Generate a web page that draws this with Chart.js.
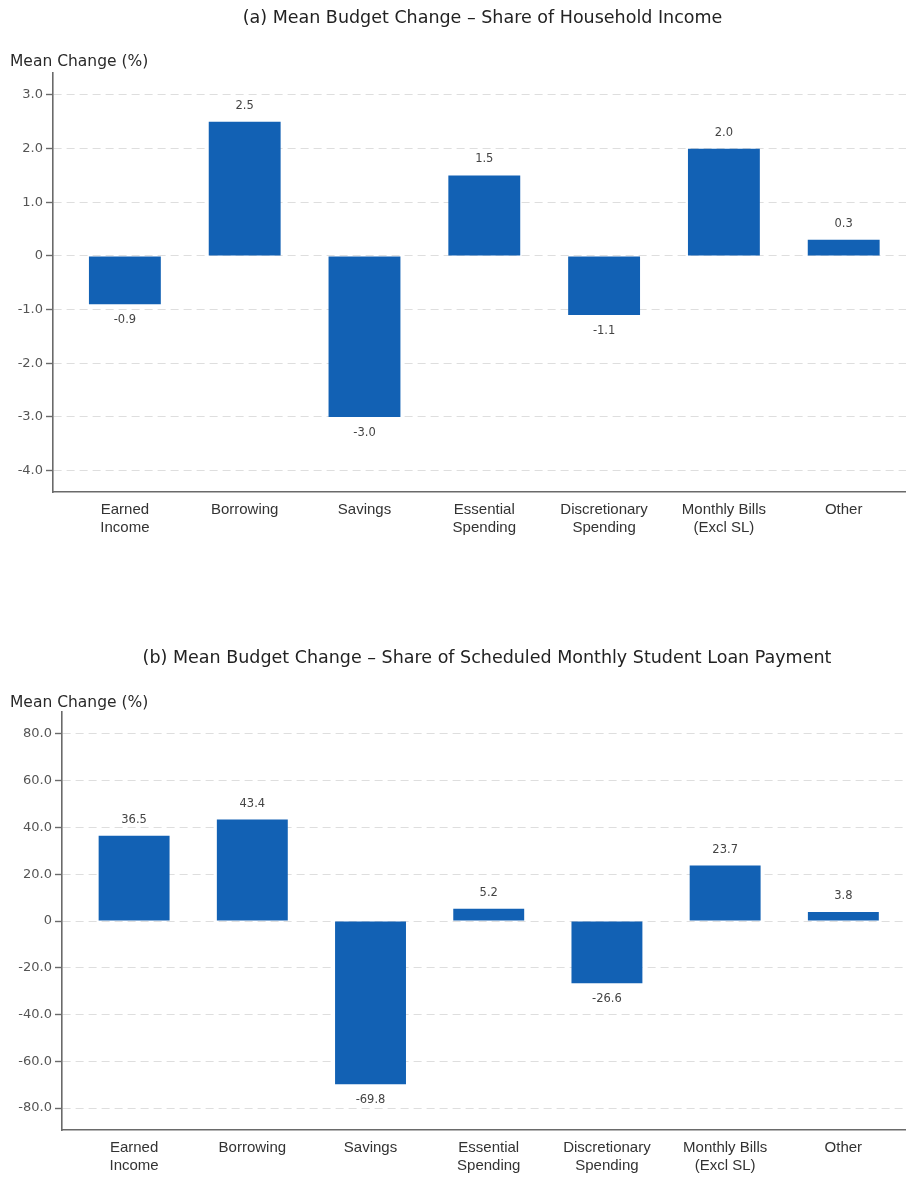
<!DOCTYPE html>
<html>
<head>
<meta charset="utf-8">
<script src="https://cdn.jsdelivr.net/npm/chart.js@4/dist/chart.umd.min.js"></script>
<style>
  html, body { margin: 0; padding: 0; background: #ffffff; }
  #wrap { position: relative; width: 906px; height: 1180px; }
  canvas { position: absolute; left: 0; }
  #panelA { top: 0; }
  #panelB { top: 640px; }
</style>
</head>
<body>
<div id="wrap">
  <canvas id="panelA" width="906" height="560"></canvas>
  <canvas id="panelB" width="906" height="540"></canvas>
</div>
<script>
// Budget categories (shared by both panels)
const categories = [
  ['Earned', 'Income'],
  ['Borrowing'],
  ['Savings'],
  ['Essential', 'Spending'],
  ['Discretionary', 'Spending'],
  ['Monthly Bills', '(Excl SL)'],
  ['Other']
];

// (a) mean change as share of household income, %
const shareOfIncome = [-0.9, 2.5, -3.0, 1.5, -1.1, 2.0, 0.3];
// (b) mean change as share of scheduled monthly student loan payment, %
const shareOfPayment = [36.5, 43.4, -69.8, 5.2, -26.6, 23.7, 3.8];

// y-axis tick values
const ticksA = [-4, -3, -2, -1, 0, 1, 2, 3];
const ticksB = [-80, -60, -40, -20, 0, 20, 40, 60, 80];

const titleA = '(a) Mean Budget Change \u2013 Share of Household Income';
const titleB = '(b) Mean Budget Change \u2013 Share of Scheduled Monthly Student Loan Payment';
const yTitle = 'Mean Change (%)';

const BAR = '#1261b4';
const AXIS = '#6a6a6a';
const GRID = '#dedede';

const fmt = v => (v === 0 ? '0' : v.toFixed(1));

// Panel title, horizontal y-axis title, and value labels on the bars
const panelText = {
  id: 'panelText',
  afterDatasetsDraw(chart, args, opts) {
    const ctx = chart.ctx;
    const meta = chart.getDatasetMeta(0);
    const values = chart.data.datasets[0].data;
    ctx.save();
    ctx.font = '11.5px "DejaVu Sans", sans-serif';
    ctx.fillStyle = '#444';
    ctx.textAlign = 'center';
    ctx.textBaseline = 'middle';
    meta.data.forEach((bar, i) => {
      const v = values[i].y;
      const y = v >= 0 ? bar.y - opts.labelGap : bar.y + opts.labelGap;
      ctx.fillText(fmt(v), bar.x, y);
    });
    ctx.restore();
  },
  afterDraw(chart, args, opts) {
    const ctx = chart.ctx;
    const area = chart.chartArea;
    ctx.save();
    ctx.textBaseline = 'middle';
    ctx.fillStyle = '#222';
    ctx.font = '17.5px "DejaVu Sans", sans-serif';
    ctx.textAlign = 'center';
    ctx.fillText(opts.title, (area.left + area.right) / 2 + 3, opts.titleY);
    ctx.font = '15.5px "DejaVu Sans", sans-serif';
    ctx.textAlign = 'left';
    ctx.fillStyle = '#2a2a2a';
    ctx.fillText(opts.yTitle, 10, opts.yTitleY);
    ctx.restore();
  }
};

function makePanel(canvasId, values, yTicks, yMin, yMax, xMin, xMax, axisLeft, plotTop, plotBottom, title, yTitleY) {
  const canvas = document.getElementById(canvasId);
  return new Chart(canvas, {
    type: 'bar',
    data: {
      datasets: [{
        data: values.map((v, i) => ({ x: i, y: v })),
        backgroundColor: BAR,
        borderWidth: 0,
        barPercentage: 0.6,
        categoryPercentage: 1.0
      }]
    },
    options: {
      responsive: false,
      animation: false,
      devicePixelRatio: 1,
      layout: { padding: { top: plotTop, left: 0, right: 0, bottom: 0 } },
      plugins: {
        legend: { display: false },
        title: { display: false },
        tooltip: { enabled: false },
        panelText: { title: title, titleY: 18, yTitle: yTitle, yTitleY: yTitleY, labelGap: 16 }
      },
      scales: {
        x: {
          type: 'linear',
          offset: false,
          min: xMin,
          max: xMax,
          afterBuildTicks: axis => { axis.ticks = categories.map((_, i) => ({ value: i })); },
          afterFit: axis => { axis.height = canvas.height - plotBottom; },
          grid: { display: false, drawTicks: false },
          border: { display: true, color: AXIS, width: 1.6 },
          ticks: {
            autoSkip: false,
            maxRotation: 0,
            padding: 9,
            color: '#333',
            font: { family: '"Liberation Sans", Arial, sans-serif', size: 15, lineHeight: 1.2 },
            callback: v => categories[v] || ''
          }
        },
        y: {
          min: yMin,
          max: yMax,
          afterBuildTicks: axis => { axis.ticks = yTicks.map(v => ({ value: v })); },
          afterFit: axis => { axis.width = axisLeft; },
          grid: {
            color: GRID,
            lineWidth: 1,
            drawTicks: true,
            tickLength: 7,
            tickColor: AXIS,
            tickWidth: 1.4,
            tickBorderDash: []
          },
          border: { display: true, color: AXIS, width: 1.6, dash: [8, 5] },
          ticks: {
            padding: 3,
            color: '#555',
            font: { family: '"DejaVu Sans", sans-serif', size: 13 },
            callback: v => fmt(v)
          }
        }
      }
    },
    plugins: [panelText]
  });
}

makePanel('panelA', shareOfIncome, ticksA, -4.4, 3.41, -0.6, 6.52, 53, 73, 492, titleA, 62);
makePanel('panelB', shareOfPayment, ticksB, -89.4, 89.4, -0.61, 6.53, 62, 72, 490, titleB, 63);
</script>
</body>
</html>
